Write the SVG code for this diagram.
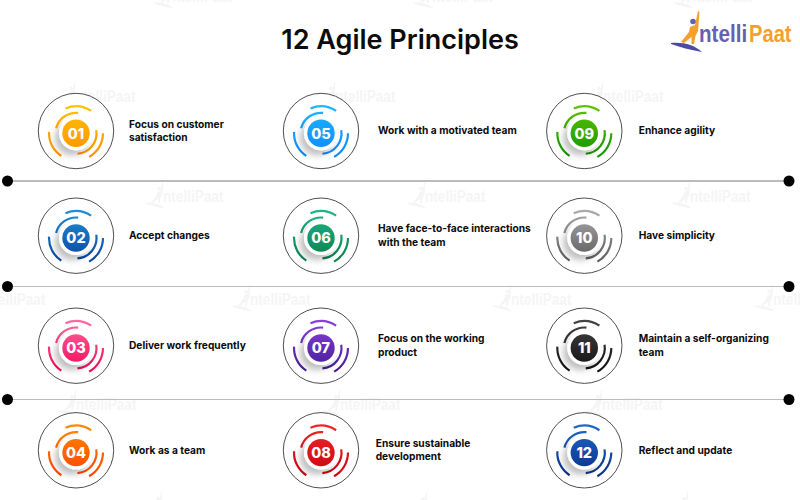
<svg xmlns="http://www.w3.org/2000/svg" xmlns:xlink="http://www.w3.org/1999/xlink" width="800" height="500" viewBox="0 0 800 500">
<style>
.title{font:600 27px "Inter","Liberation Sans",sans-serif;fill:#0c0c0c}
.label{font:700 10.2px "Inter","Liberation Sans",sans-serif;fill:#0c0c0c}
.num{font:800 14.5px "Inter","Liberation Sans",sans-serif;fill:#fff;text-anchor:middle}
.ring{fill:#fff;stroke:#222;stroke-width:.8}
.arc{fill:none;stroke-width:2.2}
.sep{stroke:#bbb;fill:none}
.dot{fill:#000}
.wmt{font:700 24px "Liberation Sans",sans-serif;fill:#f5f5f5}
.logot{font:700 24px "Liberation Sans",sans-serif}
</style>
<defs>
<filter id="sh" x="-60%" y="-60%" width="220%" height="220%"><feDropShadow dx="-4" dy="5" stdDeviation="3" flood-color="#000" flood-opacity=".25"/></filter>
<g id="arcs" class="arc">
<path d="M-10.55-24.85A27 27 0 0 1 15.1-22.38"/>
<path d="M-19.89-4.96A20.5 20.5 0 0 1 2.14-20.39"/>
<path d="M-26.96-1.41A27 27 0 0 0-14.7 22.64"/>
<path d="M27 0A27 27 0 0 1 13.09 23.61"/>
<path d="M20.25-3.21A20.5 20.5 0 0 1 1.43 20.45"/>
</g>
<circle id="plate" r="17" fill="#fff" filter="url(#sh)"/>
<linearGradient id="g01" gradientUnits="userSpaceOnUse" x1="0" y1="-28" x2="0" y2="28"><stop offset="0" stop-color="#ffc400"/><stop offset="1" stop-color="#ff8a00"/></linearGradient>
<linearGradient id="g02" gradientUnits="userSpaceOnUse" x1="0" y1="-28" x2="0" y2="28"><stop offset="0" stop-color="#1e90d8"/><stop offset="1" stop-color="#0a3f9a"/></linearGradient>
<linearGradient id="g03" gradientUnits="userSpaceOnUse" x1="0" y1="-28" x2="0" y2="28"><stop offset="0" stop-color="#ff6aa0"/><stop offset="1" stop-color="#f00050"/></linearGradient>
<linearGradient id="g04" gradientUnits="userSpaceOnUse" x1="0" y1="-28" x2="0" y2="28"><stop offset="0" stop-color="#ff8a00"/><stop offset="1" stop-color="#ff3d00"/></linearGradient>
<linearGradient id="g05" gradientUnits="userSpaceOnUse" x1="0" y1="-28" x2="0" y2="28"><stop offset="0" stop-color="#1fb6ff"/><stop offset="1" stop-color="#0a84ff"/></linearGradient>
<linearGradient id="g06" gradientUnits="userSpaceOnUse" x1="0" y1="-28" x2="0" y2="28"><stop offset="0" stop-color="#1fb58a"/><stop offset="1" stop-color="#0a7a45"/></linearGradient>
<linearGradient id="g07" gradientUnits="userSpaceOnUse" x1="0" y1="-28" x2="0" y2="28"><stop offset="0" stop-color="#8a3fe0"/><stop offset="1" stop-color="#3e1a8c"/></linearGradient>
<linearGradient id="g08" gradientUnits="userSpaceOnUse" x1="0" y1="-28" x2="0" y2="28"><stop offset="0" stop-color="#f02828"/><stop offset="1" stop-color="#c80010"/></linearGradient>
<linearGradient id="g09" gradientUnits="userSpaceOnUse" x1="0" y1="-28" x2="0" y2="28"><stop offset="0" stop-color="#5fc400"/><stop offset="1" stop-color="#0a9000"/></linearGradient>
<linearGradient id="g10" gradientUnits="userSpaceOnUse" x1="0" y1="-28" x2="0" y2="28"><stop offset="0" stop-color="#ababab"/><stop offset="1" stop-color="#555"/></linearGradient>
<linearGradient id="g11" gradientUnits="userSpaceOnUse" x1="0" y1="-28" x2="0" y2="28"><stop offset="0" stop-color="#444"/><stop offset="1" stop-color="#0c0c0c"/></linearGradient>
<linearGradient id="g12" gradientUnits="userSpaceOnUse" x1="0" y1="-28" x2="0" y2="28"><stop offset="0" stop-color="#1a6ac8"/><stop offset="1" stop-color="#0a2a80"/></linearGradient>
<g id="wm">
<path d="M-1-31L.5-30-1-11-3.5-6-5 2H-7.5V-5L-15 1-18 0-10-10-9-15-4-17Z M-28 1C-15 0-5 3 3 10-8 8-20 6-28 2Z" fill="#f5f5f5"/>
<circle cx="-6" cy="-20.5" r="2.8" fill="#f5f5f5"/>
<text class="wmt" x="0" y="0" textLength="93" lengthAdjust="spacingAndGlyphs">ntelliPaat</text>
</g>
</defs>
<rect width="800" height="500" fill="#fff"/>
<g id="watermarks">
<use href="#wm" transform="translate(-88 2) scale(.65)"/>
<use href="#wm" transform="translate(172 2) scale(.65)"/>
<use href="#wm" transform="translate(432 2) scale(.65)"/>
<use href="#wm" transform="translate(692 2) scale(.65)"/>
<use href="#wm" transform="translate(75 102) scale(.65)"/>
<use href="#wm" transform="translate(335 102) scale(.65)"/>
<use href="#wm" transform="translate(603 102) scale(.65)"/>
<use href="#wm" transform="translate(163 202) scale(.65)"/>
<use href="#wm" transform="translate(425 202) scale(.65)"/>
<use href="#wm" transform="translate(690 202) scale(.65)"/>
<use href="#wm" transform="translate(-15 305) scale(.65)"/>
<use href="#wm" transform="translate(250 305) scale(.65)"/>
<use href="#wm" transform="translate(511 305) scale(.65)"/>
<use href="#wm" transform="translate(773 305) scale(.65)"/>
<use href="#wm" transform="translate(76 410) scale(.65)"/>
<use href="#wm" transform="translate(340 410) scale(.65)"/>
<use href="#wm" transform="translate(602 410) scale(.65)"/>
<use href="#wm" transform="translate(162 512) scale(.65)"/>
<use href="#wm" transform="translate(427 512) scale(.65)"/>
<use href="#wm" transform="translate(688 512) scale(.65)"/>
</g>
<text id="title" class="title" x="400" y="48.500" text-anchor="middle">12 Agile Principles</text>
<g id="logo">
<path d="M698 11L699.500 12 698 31 695.500 36 694 44H691.500V37L684 43 681 42 689 32 690 27 695 25Z" fill="#f5a02c"/>
<circle cx="693" cy="21.500" r="2.800" fill="#6660ae"/>
<path d="M671 43C684 42 694 45 702 52 690 50 680 47 671 44Z" fill="#4d4aa0"/>
<text class="logot" transform="translate(699 42.300) scale(.86 1)" fill="#6660ae">ntelli</text>
<text class="logot" transform="translate(749 42.300) scale(.84 1)" fill="#f5a02c">Paat</text>
</g>
<g id="connectors">
<path class="sep" stroke-width="1.800" d="M7.500 181H789"/>
<path class="sep" stroke-width="1" d="M7.500 286.500H789"/>
<path class="sep" stroke-width="1" d="M7.500 399.500H789"/>
<circle class="dot" cx="7.500" cy="181" r="5.500"/><circle class="dot" cx="789" cy="181" r="5.500"/>
<circle class="dot" cx="7.500" cy="286.500" r="5.500"/><circle class="dot" cx="789" cy="286.500" r="5.500"/>
<circle class="dot" cx="7.500" cy="399.500" r="5.500"/><circle class="dot" cx="789" cy="399.500" r="5.500"/>
</g>
<g id="node-01"><circle class="ring" cx="76" cy="131" r="37.700"/><g transform="translate(76 133.300)"><use href="#arcs" stroke="url(#g01)"/><use href="#plate"/><circle r="13.700" fill="url(#g01)"/><text class="num" y="5.300">01</text></g><text class="label" x="129" y="127.700">Focus on customer</text><text class="label" x="129" y="141.300">satisfaction</text></g>
<g id="node-02"><circle class="ring" cx="76" cy="235.700" r="37.700"/><g transform="translate(76 238)"><use href="#arcs" stroke="url(#g02)"/><use href="#plate"/><circle r="13.700" fill="url(#g02)"/><text class="num" y="5.300">02</text></g><text class="label" x="129" y="239">Accept changes</text></g>
<g id="node-03"><circle class="ring" cx="76" cy="345.700" r="37.700"/><g transform="translate(76 348)"><use href="#arcs" stroke="url(#g03)"/><use href="#plate"/><circle r="13.700" fill="url(#g03)"/><text class="num" y="5.300">03</text></g><text class="label" x="129" y="349">Deliver work frequently</text></g>
<g id="node-04"><circle class="ring" cx="76" cy="450.300" r="37.700"/><g transform="translate(76 452.600)"><use href="#arcs" stroke="url(#g04)"/><use href="#plate"/><circle r="13.700" fill="url(#g04)"/><text class="num" y="5.300">04</text></g><text class="label" x="129" y="453.700">Work as a team</text></g>
<g id="node-05"><circle class="ring" cx="321" cy="131" r="37.700"/><g transform="translate(321 133.300)"><use href="#arcs" stroke="url(#g05)"/><use href="#plate"/><circle r="13.700" fill="url(#g05)"/><text class="num" y="5.300">05</text></g><text class="label" x="378" y="134.300">Work with a motivated team</text></g>
<g id="node-06"><circle class="ring" cx="321" cy="235.700" r="37.700"/><g transform="translate(321 238)"><use href="#arcs" stroke="url(#g06)"/><use href="#plate"/><circle r="13.700" fill="url(#g06)"/><text class="num" y="5.300">06</text></g><text class="label" x="378" y="232">Have face-to-face interactions</text><text class="label" x="378" y="245.700">with the team</text></g>
<g id="node-07"><circle class="ring" cx="321" cy="345.700" r="37.700"/><g transform="translate(321 348)"><use href="#arcs" stroke="url(#g07)"/><use href="#plate"/><circle r="13.700" fill="url(#g07)"/><text class="num" y="5.300">07</text></g><text class="label" x="378" y="342.300">Focus on the working</text><text class="label" x="378" y="356">product</text></g>
<g id="node-08"><circle class="ring" cx="321" cy="450.300" r="37.700"/><g transform="translate(321 452.600)"><use href="#arcs" stroke="url(#g08)"/><use href="#plate"/><circle r="13.700" fill="url(#g08)"/><text class="num" y="5.300">08</text></g><text class="label" x="375.700" y="447">Ensure sustainable</text><text class="label" x="375.700" y="460.300">development</text></g>
<g id="node-09"><circle class="ring" cx="584.300" cy="131" r="37.700"/><g transform="translate(584.300 133.300)"><use href="#arcs" stroke="url(#g09)"/><use href="#plate"/><circle r="13.700" fill="url(#g09)"/><text class="num" y="5.300">09</text></g><text class="label" x="638.700" y="134.300">Enhance agility</text></g>
<g id="node-10"><circle class="ring" cx="584.300" cy="235.700" r="37.700"/><g transform="translate(584.300 238)"><use href="#arcs" stroke="url(#g10)"/><use href="#plate"/><circle r="13.700" fill="url(#g10)"/><text class="num" y="5.300">10</text></g><text class="label" x="638.700" y="238.700">Have simplicity</text></g>
<g id="node-11"><circle class="ring" cx="584.300" cy="345.700" r="37.700"/><g transform="translate(584.300 348)"><use href="#arcs" stroke="url(#g11)"/><use href="#plate"/><circle r="13.700" fill="url(#g11)"/><text class="num" y="5.300">11</text></g><text class="label" x="638.700" y="342.300">Maintain a self-organizing</text><text class="label" x="638.700" y="356">team</text></g>
<g id="node-12"><circle class="ring" cx="584.300" cy="450.300" r="37.700"/><g transform="translate(584.300 452.600)"><use href="#arcs" stroke="url(#g12)"/><use href="#plate"/><circle r="13.700" fill="url(#g12)"/><text class="num" y="5.300">12</text></g><text class="label" x="638.700" y="453.700">Reflect and update</text></g>
</svg>
